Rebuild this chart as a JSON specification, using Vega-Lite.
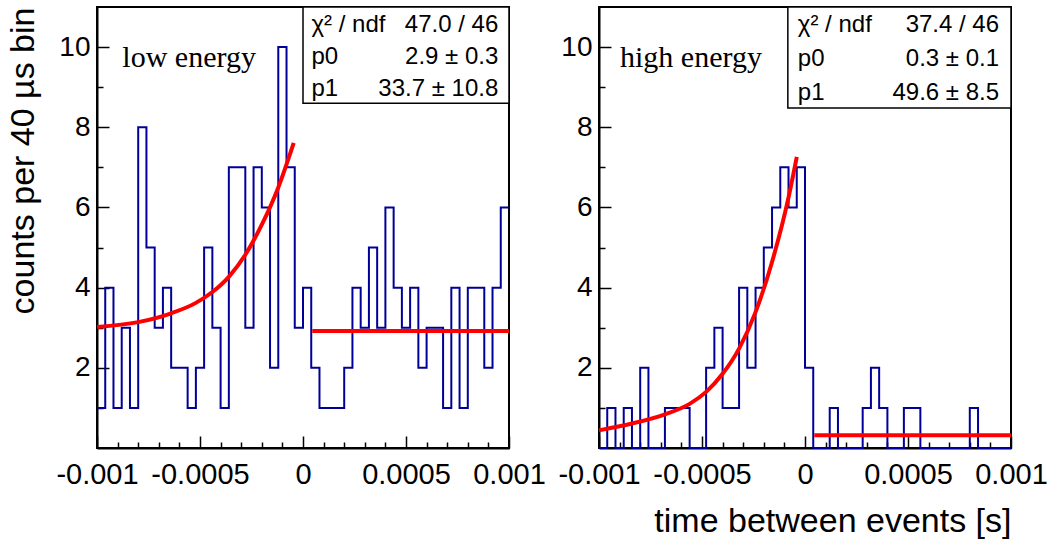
{
  "$schema": "https://vega.github.io/schema/vega-lite/v6.json",
  "background": "white",
  "padding": {"left": 5, "top": 5, "right": 0, "bottom": 0},
  "datasets": {
    "hist": [
      {"panel": "low", "edge": -0.001, "count": 1}, {"panel": "low", "edge": -0.00096, "count": 4}, {"panel": "low", "edge": -0.00092, "count": 1}, {"panel": "low", "edge": -0.00088, "count": 3}, {"panel": "low", "edge": -0.00084, "count": 1},
      {"panel": "low", "edge": -0.0008, "count": 8}, {"panel": "low", "edge": -0.00076, "count": 5}, {"panel": "low", "edge": -0.00072, "count": 3}, {"panel": "low", "edge": -0.00068, "count": 4}, {"panel": "low", "edge": -0.00064, "count": 2},
      {"panel": "low", "edge": -0.0006, "count": 2}, {"panel": "low", "edge": -0.00056, "count": 1}, {"panel": "low", "edge": -0.00052, "count": 2}, {"panel": "low", "edge": -0.00048, "count": 5}, {"panel": "low", "edge": -0.00044, "count": 3},
      {"panel": "low", "edge": -0.0004, "count": 1}, {"panel": "low", "edge": -0.00036, "count": 7}, {"panel": "low", "edge": -0.00032, "count": 7}, {"panel": "low", "edge": -0.00028, "count": 3}, {"panel": "low", "edge": -0.00024, "count": 7},
      {"panel": "low", "edge": -0.0002, "count": 6}, {"panel": "low", "edge": -0.00016, "count": 2}, {"panel": "low", "edge": -0.00012, "count": 10}, {"panel": "low", "edge": -0.00008, "count": 7}, {"panel": "low", "edge": -0.00004, "count": 3},
      {"panel": "low", "edge": 0, "count": 4}, {"panel": "low", "edge": 0.00004, "count": 2}, {"panel": "low", "edge": 0.00008, "count": 1}, {"panel": "low", "edge": 0.00012, "count": 1}, {"panel": "low", "edge": 0.00016, "count": 1},
      {"panel": "low", "edge": 0.0002, "count": 2}, {"panel": "low", "edge": 0.00024, "count": 4}, {"panel": "low", "edge": 0.00028, "count": 3}, {"panel": "low", "edge": 0.00032, "count": 5}, {"panel": "low", "edge": 0.00036, "count": 3},
      {"panel": "low", "edge": 0.0004, "count": 6}, {"panel": "low", "edge": 0.00044, "count": 4}, {"panel": "low", "edge": 0.00048, "count": 3}, {"panel": "low", "edge": 0.00052, "count": 4}, {"panel": "low", "edge": 0.00056, "count": 2},
      {"panel": "low", "edge": 0.0006, "count": 3}, {"panel": "low", "edge": 0.00064, "count": 3}, {"panel": "low", "edge": 0.00068, "count": 1}, {"panel": "low", "edge": 0.00072, "count": 4}, {"panel": "low", "edge": 0.00076, "count": 1},
      {"panel": "low", "edge": 0.0008, "count": 4}, {"panel": "low", "edge": 0.00084, "count": 4}, {"panel": "low", "edge": 0.00088, "count": 2}, {"panel": "low", "edge": 0.00092, "count": 4}, {"panel": "low", "edge": 0.00096, "count": 6},
      {"panel": "low", "edge": 0.001, "count": 6},
      {"panel": "high", "edge": -0.001, "count": 0}, {"panel": "high", "edge": -0.00096, "count": 1}, {"panel": "high", "edge": -0.00092, "count": 0}, {"panel": "high", "edge": -0.00088, "count": 1}, {"panel": "high", "edge": -0.00084, "count": 0},
      {"panel": "high", "edge": -0.0008, "count": 2}, {"panel": "high", "edge": -0.00076, "count": 0}, {"panel": "high", "edge": -0.00072, "count": 0}, {"panel": "high", "edge": -0.00068, "count": 1}, {"panel": "high", "edge": -0.00064, "count": 1},
      {"panel": "high", "edge": -0.0006, "count": 1}, {"panel": "high", "edge": -0.00056, "count": 0}, {"panel": "high", "edge": -0.00052, "count": 0}, {"panel": "high", "edge": -0.00048, "count": 2}, {"panel": "high", "edge": -0.00044, "count": 3},
      {"panel": "high", "edge": -0.0004, "count": 1}, {"panel": "high", "edge": -0.00036, "count": 1}, {"panel": "high", "edge": -0.00032, "count": 4}, {"panel": "high", "edge": -0.00028, "count": 2}, {"panel": "high", "edge": -0.00024, "count": 4},
      {"panel": "high", "edge": -0.0002, "count": 5}, {"panel": "high", "edge": -0.00016, "count": 6}, {"panel": "high", "edge": -0.00012, "count": 7}, {"panel": "high", "edge": -0.00008, "count": 6}, {"panel": "high", "edge": -0.00004, "count": 7},
      {"panel": "high", "edge": 0, "count": 2}, {"panel": "high", "edge": 0.00004, "count": 0}, {"panel": "high", "edge": 0.00008, "count": 0}, {"panel": "high", "edge": 0.00012, "count": 1}, {"panel": "high", "edge": 0.00016, "count": 0},
      {"panel": "high", "edge": 0.0002, "count": 0}, {"panel": "high", "edge": 0.00024, "count": 0}, {"panel": "high", "edge": 0.00028, "count": 1}, {"panel": "high", "edge": 0.00032, "count": 2}, {"panel": "high", "edge": 0.00036, "count": 1},
      {"panel": "high", "edge": 0.0004, "count": 0}, {"panel": "high", "edge": 0.00044, "count": 0}, {"panel": "high", "edge": 0.00048, "count": 1}, {"panel": "high", "edge": 0.00052, "count": 1}, {"panel": "high", "edge": 0.00056, "count": 0},
      {"panel": "high", "edge": 0.0006, "count": 0}, {"panel": "high", "edge": 0.00064, "count": 0}, {"panel": "high", "edge": 0.00068, "count": 0}, {"panel": "high", "edge": 0.00072, "count": 0}, {"panel": "high", "edge": 0.00076, "count": 0},
      {"panel": "high", "edge": 0.0008, "count": 1}, {"panel": "high", "edge": 0.00084, "count": 0}, {"panel": "high", "edge": 0.00088, "count": 0}, {"panel": "high", "edge": 0.00092, "count": 0}, {"panel": "high", "edge": 0.00096, "count": 0},
      {"panel": "high", "edge": 0.001, "count": 0}
    ],
    "fit": [
      {"panel": "low", "part": "exp", "t": -0.001, "value": 3.02},
      {"panel": "low", "part": "exp", "t": -0.0008, "value": 3.14},
      {"panel": "low", "part": "exp", "t": -0.00064, "value": 3.36},
      {"panel": "low", "part": "exp", "t": -0.00052, "value": 3.62},
      {"panel": "low", "part": "exp", "t": -0.00044, "value": 3.89},
      {"panel": "low", "part": "exp", "t": -0.00036, "value": 4.27},
      {"panel": "low", "part": "exp", "t": -0.00028, "value": 4.82},
      {"panel": "low", "part": "exp", "t": -0.0002, "value": 5.57},
      {"panel": "low", "part": "exp", "t": -0.00012, "value": 6.5},
      {"panel": "low", "part": "exp", "t": -0.000045, "value": 7.61},
      {"panel": "low", "part": "flat", "t": 0.000045, "value": 2.92},
      {"panel": "low", "part": "flat", "t": 0.001, "value": 2.92},
      {"panel": "high", "part": "exp", "t": -0.001, "value": 0.44},
      {"panel": "high", "part": "exp", "t": -0.00084, "value": 0.61},
      {"panel": "high", "part": "exp", "t": -0.00068, "value": 0.84},
      {"panel": "high", "part": "exp", "t": -0.00056, "value": 1.1},
      {"panel": "high", "part": "exp", "t": -0.00048, "value": 1.4},
      {"panel": "high", "part": "exp", "t": -0.0004, "value": 1.85},
      {"panel": "high", "part": "exp", "t": -0.00032, "value": 2.48},
      {"panel": "high", "part": "exp", "t": -0.00024, "value": 3.39},
      {"panel": "high", "part": "exp", "t": -0.00016, "value": 4.64},
      {"panel": "high", "part": "exp", "t": -0.00008, "value": 6.25},
      {"panel": "high", "part": "exp", "t": -0.00004, "value": 7.26},
      {"panel": "high", "part": "flat", "t": 0.000045, "value": 0.32},
      {"panel": "high", "part": "flat", "t": 0.001, "value": 0.32}
    ]
  },
  "hconcat": [
    {
      "width": 412,
      "height": 441,
      "resolve": {"axis": {"x": "independent", "y": "independent"}},
      "layer": [
        {
          "data": {"name": "hist"},
          "transform": [{"filter": "datum.panel === 'low'"}],
          "mark": {"type": "line", "interpolate": "step-after", "color": "#000099", "strokeWidth": 2},
          "encoding": {
            "x": {"field": "edge", "type": "quantitative", "scale": {"domain": [-0.001, 0.001], "nice": false, "zero": false},
              "axis": {"orient": "bottom", "values": [-0.001, -0.0005, 0, 0.0005, 0.001], "format": "~g", "labelExpr": "replace(datum.label, '\u2212', '-')", "tickSize": -12, "labelPadding": 24, "labelFontSize": 29, "title": null}},
            "y": {"field": "count", "type": "quantitative", "scale": {"domain": [0, 11], "nice": false},
              "axis": {"orient": "left", "values": [2, 4, 6, 8, 10], "tickSize": -12, "labelPadding": 19, "labelFontSize": 28, "title": "counts per 40 µs bin", "titleFontSize": 34, "titleAnchor": "end", "titlePadding": 18}}
          }
        },
        {
          "data": {"name": "fit"},
          "transform": [{"filter": "datum.panel === 'low'"}],
          "mark": {"type": "line", "color": "#ff0000", "strokeWidth": 4, "interpolate": "monotone"},
          "encoding": {
            "x": {"field": "t", "type": "quantitative", "scale": {"domain": [-0.001, 0.001], "nice": false, "zero": false},
              "axis": {"orient": "bottom", "values": [-0.0009, -0.0008, -0.0007, -0.0006, -0.0004, -0.0003, -0.0002, -0.0001, 0.0001, 0.0002, 0.0003, 0.0004, 0.0006, 0.0007, 0.0008, 0.0009], "tickSize": -6, "labels": false, "domain": false, "title": null}},
            "y": {"field": "value", "type": "quantitative", "scale": {"domain": [0, 11], "nice": false},
              "axis": {"orient": "left", "values": [1, 3, 5, 7, 9], "tickSize": -6, "labels": false, "domain": false, "title": null}},
            "detail": {"field": "part"}
          }
        },
        {
          "data": {"values": [{}]},
          "mark": {"type": "rect", "fill": "white", "stroke": "black", "strokeWidth": 1.5},
          "encoding": {
            "x": {"datum": 0.0, "type": "quantitative", "scale": {"domain": [-0.001, 0.001], "nice": false, "zero": false}, "axis": null},
            "x2": {"datum": 0.001},
            "y": {"datum": 11, "type": "quantitative", "scale": {"domain": [0, 11], "nice": false}, "axis": null},
            "y2": {"datum": 8.6}
          }
        },
        {
          "data": {"values": [{}]},
          "mark": {"type": "text", "align": "left", "baseline": "alphabetic", "font": "Liberation Sans", "fontSize": 24, "lineHeight": 32, "color": "black", "text": ["χ² / ndf", "p0", "p1"]},
          "encoding": {
            "x": {"datum": 0.000041, "type": "quantitative", "axis": null},
            "y": {"datum": 10.37, "type": "quantitative", "axis": null}
          }
        },
        {
          "data": {"values": [{}]},
          "mark": {"type": "text", "align": "right", "baseline": "alphabetic", "font": "Liberation Sans", "fontSize": 24, "lineHeight": 32, "color": "black", "text": ["47.0 / 46", "2.9 ± 0.3", "33.7 ± 10.8"]},
          "encoding": {
            "x": {"datum": 0.000948, "type": "quantitative", "axis": null},
            "y": {"datum": 10.37, "type": "quantitative", "axis": null}
          }
        },
        {
          "data": {"values": [{}]},
          "mark": {"type": "text", "align": "left", "baseline": "alphabetic", "font": "Liberation Serif", "fontSize": 30, "color": "black", "text": "low energy"},
          "encoding": {
            "x": {"datum": -0.000877, "type": "quantitative", "axis": null},
            "y": {"datum": 9.5, "type": "quantitative", "axis": null}
          }
        }
      ]
    },
    {
      "width": 412,
      "height": 441,
      "resolve": {"axis": {"x": "independent", "y": "independent"}},
      "layer": [
        {
          "data": {"name": "hist"},
          "transform": [{"filter": "datum.panel === 'high'"}],
          "mark": {"type": "line", "interpolate": "step-after", "color": "#000099", "strokeWidth": 2},
          "encoding": {
            "x": {"field": "edge", "type": "quantitative", "scale": {"domain": [-0.001, 0.001], "nice": false, "zero": false},
              "axis": {"orient": "bottom", "values": [-0.001, -0.0005, 0, 0.0005, 0.001], "format": "~g", "labelExpr": "replace(datum.label, '\u2212', '-')", "tickSize": -12, "labelPadding": 24, "labelFontSize": 29, "title": "time between events [s]", "titleFontSize": 34, "titleAnchor": "end", "titlePadding": 15}},
            "y": {"field": "count", "type": "quantitative", "scale": {"domain": [0, 11], "nice": false},
              "axis": {"orient": "left", "values": [2, 4, 6, 8, 10], "tickSize": -12, "labelPadding": 19, "labelFontSize": 28, "title": null}}
          }
        },
        {
          "data": {"name": "fit"},
          "transform": [{"filter": "datum.panel === 'high'"}],
          "mark": {"type": "line", "color": "#ff0000", "strokeWidth": 4, "interpolate": "monotone"},
          "encoding": {
            "x": {"field": "t", "type": "quantitative", "scale": {"domain": [-0.001, 0.001], "nice": false, "zero": false},
              "axis": {"orient": "bottom", "values": [-0.0009, -0.0008, -0.0007, -0.0006, -0.0004, -0.0003, -0.0002, -0.0001, 0.0001, 0.0002, 0.0003, 0.0004, 0.0006, 0.0007, 0.0008, 0.0009], "tickSize": -6, "labels": false, "domain": false, "title": null}},
            "y": {"field": "value", "type": "quantitative", "scale": {"domain": [0, 11], "nice": false},
              "axis": {"orient": "left", "values": [1, 3, 5, 7, 9], "tickSize": -6, "labels": false, "domain": false, "title": null}},
            "detail": {"field": "part"}
          }
        },
        {
          "data": {"values": [{}]},
          "mark": {"type": "rect", "fill": "white", "stroke": "black", "strokeWidth": 1.5},
          "encoding": {
            "x": {"datum": -0.0000833, "type": "quantitative", "scale": {"domain": [-0.001, 0.001], "nice": false, "zero": false}, "axis": null},
            "x2": {"datum": 0.001},
            "y": {"datum": 11, "type": "quantitative", "scale": {"domain": [0, 11], "nice": false}, "axis": null},
            "y2": {"datum": 8.48}
          }
        },
        {
          "data": {"values": [{}]},
          "mark": {"type": "text", "align": "left", "baseline": "alphabetic", "font": "Liberation Sans", "fontSize": 24, "lineHeight": 34, "color": "black", "text": ["χ² / ndf", "p0", "p1"]},
          "encoding": {
            "x": {"datum": -0.0000347, "type": "quantitative", "axis": null},
            "y": {"datum": 10.37, "type": "quantitative", "axis": null}
          }
        },
        {
          "data": {"values": [{}]},
          "mark": {"type": "text", "align": "right", "baseline": "alphabetic", "font": "Liberation Sans", "fontSize": 24, "lineHeight": 34, "color": "black", "text": ["37.4 / 46", "0.3 ± 0.1", "49.6 ± 8.5"]},
          "encoding": {
            "x": {"datum": 0.000942, "type": "quantitative", "axis": null},
            "y": {"datum": 10.37, "type": "quantitative", "axis": null}
          }
        },
        {
          "data": {"values": [{}]},
          "mark": {"type": "text", "align": "left", "baseline": "alphabetic", "font": "Liberation Serif", "fontSize": 30, "color": "black", "text": "high energy"},
          "encoding": {
            "x": {"datum": -0.000898, "type": "quantitative", "axis": null},
            "y": {"datum": 9.5, "type": "quantitative", "axis": null}
          }
        }
      ]
    }
  ],
  "spacing": 90,
  "bounds": "flush",
  "config": {
    "view": {"stroke": "black", "strokeWidth": 2},
    "axis": {
      "grid": false,
      "labelFont": "Liberation Sans",
      "labelColor": "black",
      "labelFlush": false,
      "labelOverlap": false,
      "tickColor": "black",
      "tickWidth": 1.5,
      "domainColor": "black",
      "domainWidth": 2,
      "titleFont": "Liberation Sans",
      "titleColor": "black",
      "titleFontWeight": "normal",
      "zindex": 1
    }
  }
}
